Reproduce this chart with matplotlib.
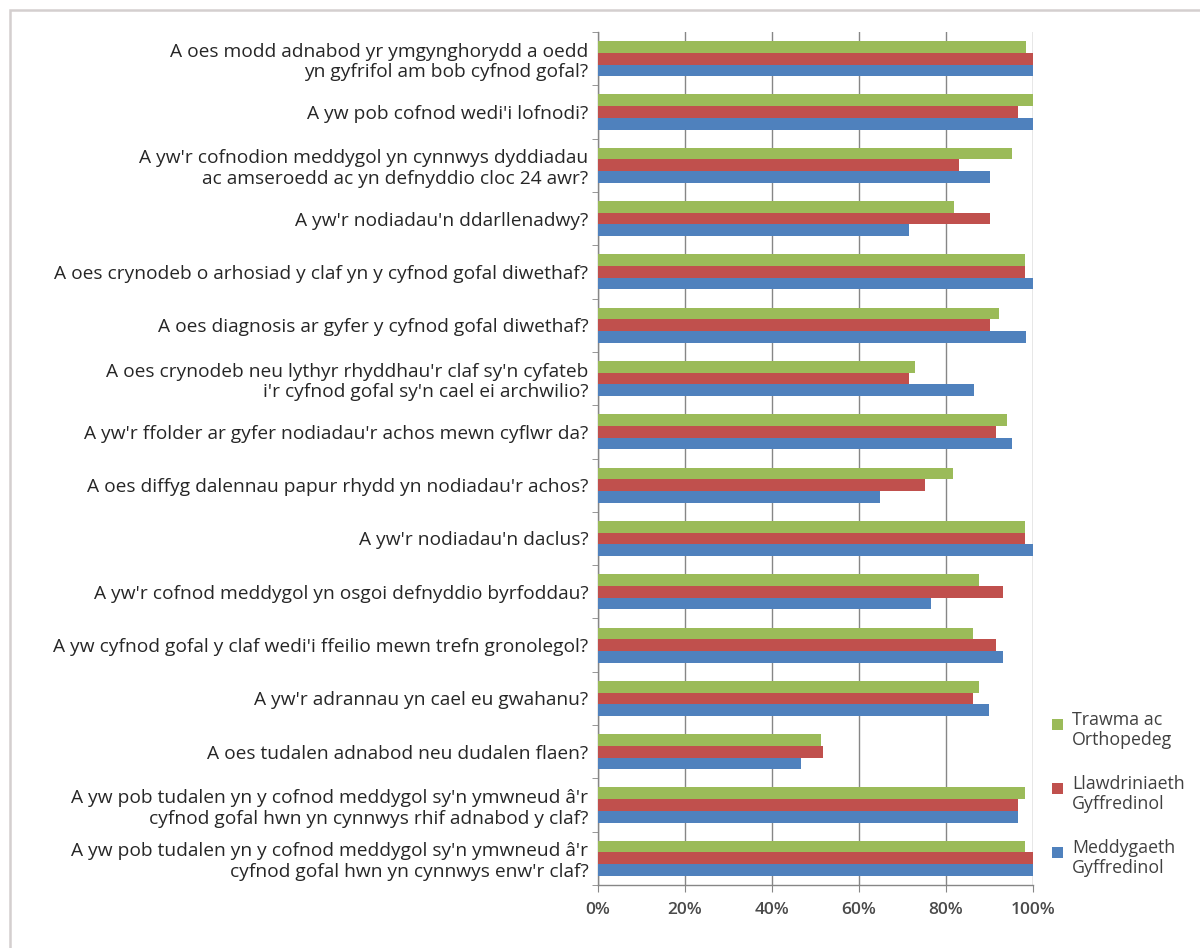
import matplotlib.pyplot as plt
import numpy as np
from matplotlib.patches import Rectangle

plt.rcParams['font.family'] = ['Open Sans', 'DejaVu Sans']

questions = [
    "A oes modd adnabod yr ymgynghorydd a oedd\nyn gyfrifol am bob cyfnod gofal?",
    "A yw pob cofnod wedi'i lofnodi?",
    "A yw'r cofnodion meddygol yn cynnwys dyddiadau\nac amseroedd ac yn defnyddio cloc 24 awr?",
    "A yw'r nodiadau'n ddarllenadwy?",
    "A oes crynodeb o arhosiad y claf yn y cyfnod gofal diwethaf?",
    "A oes diagnosis ar gyfer y cyfnod gofal diwethaf?",
    "A oes crynodeb neu lythyr rhyddhau'r claf sy'n cyfateb\ni'r cyfnod gofal sy'n cael ei archwilio?",
    "A yw'r ffolder ar gyfer nodiadau'r achos mewn cyflwr da?",
    "A oes diffyg dalennau papur rhydd yn nodiadau'r achos?",
    "A yw'r nodiadau'n daclus?",
    "A yw'r cofnod meddygol yn osgoi defnyddio byrfoddau?",
    "A yw cyfnod gofal y claf wedi'i ffeilio mewn trefn gronolegol?",
    "A yw'r adrannau yn cael eu gwahanu?",
    "A oes tudalen adnabod neu dudalen flaen?",
    "A yw pob tudalen yn y cofnod meddygol sy'n ymwneud â'r\ncyfnod gofal hwn yn cynnwys rhif adnabod y claf?",
    "A yw pob tudalen yn y cofnod meddygol sy'n ymwneud â'r\ncyfnod gofal hwn yn cynnwys enw'r claf?",
]

trawma = [98.3, 100, 95.2, 81.8, 98.2, 92.1, 72.8, 94.1, 81.6, 98.2, 87.7, 86.1, 87.7, 51.3, 98.2, 98.2]
llawdriniaeth = [100, 96.6, 83.1, 90.0, 98.2, 90.0, 71.5, 91.4, 75.1, 98.2, 93.1, 91.4, 86.2, 51.7, 96.6, 100]
meddygaeth = [100, 100, 90.0, 71.5, 100, 98.3, 86.4, 95.1, 64.8, 100, 76.5, 93.1, 89.9, 46.7, 96.6, 100]

series_names = ["Trawma ac\nOrthopedeg", "Llawdriniaeth\nGyffredinol", "Meddygaeth\nGyffredinol"]
series_colors = ['#9BBB59', '#C0504D', '#4F81BD']
ticks = [0, 20, 40, 60, 80, 100]

fig = plt.figure(figsize=(12, 9.48), dpi=100)
fig.patch.set_facecolor('white')

# chart-area border
fig.patches.append(Rectangle((10 / 1200, -0.05), 1.2, 1 - 10 / 948 + 0.05,
                             transform=fig.transFigure, fill=False,
                             edgecolor='#d4cfcf', lw=1.8, zorder=0))

ax = fig.add_axes([598 / 1200, 1 - 885 / 948, 435 / 1200, (885 - 32) / 948])

y = np.arange(len(questions))
h = 0.22
for vals, off, col in zip([trawma, llawdriniaeth, meddygaeth], [-h, 0, h], series_colors):
    ax.barh(y + off, vals, height=h, color=col, edgecolor='none', zorder=3)

ax.set_xlim(0, 100)
ax.set_ylim(len(questions) - 0.5, -0.5)

ax.set_xticks(ticks)
ax.set_xticklabels([f"{t}%" for t in ticks], fontsize=12.5, color='#4a4a4a',
                   fontweight='semibold')
ax.xaxis.grid(True, color='#868686', lw=1.0, zorder=0)
ax.tick_params(axis='x', length=5, color='#868686', pad=7)

ax.set_yticks(y)
ax.set_yticklabels(questions, fontsize=13.8, color='#262626', linespacing=1.18)
ax.set_yticks(np.arange(len(questions) + 1) - 0.5, minor=True)
ax.tick_params(axis='y', which='major', length=0, pad=7)
ax.tick_params(axis='y', which='minor', length=4, color='#868686')

for s in ['top', 'right']:
    ax.spines[s].set_visible(False)
for s in ['left', 'bottom']:
    ax.spines[s].set_color('#868686')
    ax.spines[s].set_linewidth(1.0)

# legend drawn by hand so the swatch sits on the first text line
leg_y = [724, 788, 852]
for name, col, yy in zip(series_names, series_colors, leg_y):
    fig.patches.append(Rectangle((1052 / 1200, 1 - (yy + 5.5) / 948), 11 / 1200, 11 / 948,
                                 transform=fig.transFigure, facecolor=col,
                                 edgecolor='none'))
    fig.text(1072 / 1200, 1 - (yy - 13) / 948, name, ha='left', va='top',
             fontsize=12.8, color='#404040', linespacing=1.15)

fig.savefig('out.png', dpi=100, facecolor='white')
